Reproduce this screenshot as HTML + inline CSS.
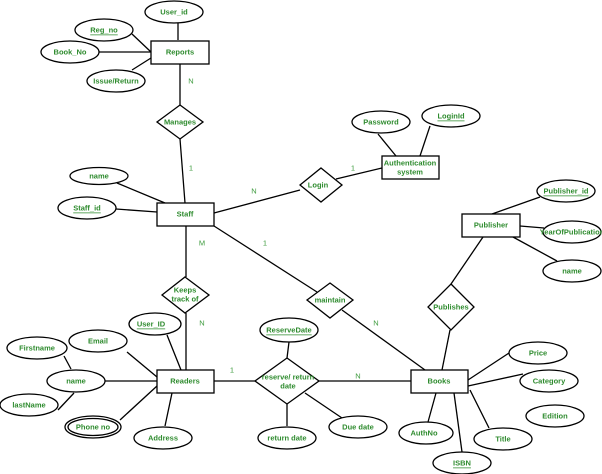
<!DOCTYPE html>
<html><head><style>
html,body{margin:0;padding:0;background:#fff;}
svg{display:block;}
text{font-family:"Liberation Sans",sans-serif;font-size:7.5px;font-weight:bold;fill:#2e8b2e;text-anchor:middle;dominant-baseline:central;}
.c{font-weight:normal;fill:#3c9a3c;}
.u{text-decoration:underline;}
</style></head><body>
<svg width="602" height="474" viewBox="0 0 602 474" xmlns="http://www.w3.org/2000/svg">
<g stroke="#000" stroke-width="1.3" fill="none">
<!-- lines -->
<line x1="178" y1="23" x2="178" y2="40"/>
<line x1="132" y1="34" x2="151" y2="52"/>
<line x1="99" y1="52" x2="151" y2="52"/>
<line x1="132" y1="70" x2="151" y2="58"/>
<line x1="180" y1="64" x2="180" y2="105"/>
<line x1="180" y1="139" x2="185" y2="203"/>
<line x1="117" y1="183" x2="165" y2="203"/>
<line x1="116" y1="209" x2="157" y2="212"/>
<line x1="214" y1="213" x2="300" y2="190"/>
<line x1="336" y1="179" x2="382" y2="168"/>
<line x1="378" y1="134" x2="396" y2="156"/>
<line x1="430" y1="126" x2="420" y2="156"/>
<line x1="540" y1="197" x2="492" y2="214"/>
<line x1="520" y1="226" x2="544" y2="228"/>
<line x1="513" y1="237" x2="557" y2="261"/>
<line x1="483" y1="237" x2="451" y2="284"/>
<line x1="450" y1="330" x2="442" y2="370"/>
<line x1="214" y1="226" x2="317" y2="292"/>
<line x1="342" y1="310" x2="425" y2="370"/>
<line x1="186" y1="226" x2="186" y2="277"/>
<line x1="186" y1="313" x2="186" y2="370"/>
<line x1="214" y1="381" x2="255" y2="381"/>
<line x1="319" y1="381" x2="411" y2="381"/>
<line x1="289" y1="342" x2="287" y2="358"/>
<line x1="287" y1="404" x2="287" y2="426"/>
<line x1="305" y1="393" x2="342" y2="418"/>
<line x1="167" y1="335" x2="181" y2="370"/>
<line x1="127" y1="352" x2="157" y2="377"/>
<line x1="64" y1="356" x2="71" y2="369"/>
<line x1="105" y1="381" x2="157" y2="381"/>
<line x1="74" y1="393" x2="58" y2="410"/>
<line x1="120" y1="420" x2="157" y2="386"/>
<line x1="172" y1="393" x2="165" y2="426"/>
<line x1="468" y1="380" x2="509" y2="353"/>
<line x1="468" y1="386" x2="523" y2="374"/>
<line x1="470" y1="390" x2="489" y2="428"/>
<line x1="454" y1="393" x2="462" y2="452"/>
<line x1="436" y1="393" x2="428" y2="422"/>
<!-- shapes -->
<g fill="#fff">
<rect x="151" y="41" width="58" height="23"/>
<rect x="157" y="203" width="57" height="23"/>
<rect x="382" y="156" width="57" height="23"/>
<rect x="462" y="214" width="58" height="23"/>
<rect x="157" y="370" width="57" height="23"/>
<rect x="411" y="370" width="57" height="23"/>
<polygon points="180,105 203,122 180,139 157,122"/>
<polygon points="321,168 342,185 321,202 300,185"/>
<polygon points="330,283 353,300 330,318 307,300"/>
<polygon points="451,284 474,307 451,330 428,307"/>
<polygon points="185,277 209,295 185,313 162,295"/>
<polygon points="287,358 319,381 287,404 255,381"/>
<ellipse cx="174" cy="12" rx="29" ry="11"/>
<ellipse cx="104" cy="30" rx="29" ry="11"/>
<ellipse cx="70" cy="52" rx="29" ry="11"/>
<ellipse cx="116" cy="81" rx="29" ry="11"/>
<ellipse cx="99" cy="176" rx="29" ry="8.5"/>
<ellipse cx="87" cy="208" rx="29" ry="11"/>
<ellipse cx="381" cy="122" rx="29" ry="11"/>
<ellipse cx="451" cy="116" rx="29" ry="11"/>
<ellipse cx="566" cy="191" rx="29" ry="11"/>
<ellipse cx="572" cy="232" rx="29" ry="11"/>
<ellipse cx="572" cy="271" rx="29" ry="11"/>
<ellipse cx="289" cy="330" rx="29" ry="12"/>
<ellipse cx="287" cy="438" rx="29" ry="11"/>
<ellipse cx="358" cy="427" rx="29" ry="11"/>
<ellipse cx="155" cy="324" rx="26" ry="11"/>
<ellipse cx="98" cy="341" rx="29" ry="11"/>
<ellipse cx="37" cy="348" rx="30" ry="11"/>
<ellipse cx="76" cy="381" rx="29" ry="11"/>
<ellipse cx="29" cy="405" rx="29" ry="11"/>
<ellipse cx="93" cy="427" rx="28" ry="11"/>
<ellipse cx="93" cy="427" rx="25" ry="8.5"/>
<ellipse cx="163" cy="438" rx="29" ry="11"/>
<ellipse cx="538" cy="353" rx="29" ry="11"/>
<ellipse cx="549" cy="381" rx="29" ry="11"/>
<ellipse cx="555" cy="416" rx="29" ry="11"/>
<ellipse cx="503" cy="439" rx="29" ry="11"/>
<ellipse cx="462" cy="463" rx="29" ry="11"/>
<ellipse cx="426" cy="433" rx="27" ry="11"/>
</g>
</g>
<text x="180" y="52">Reports</text>
<text x="185" y="214">Staff</text>
<text x="410" y="163">Authentication</text>
<text x="410" y="172">system</text>
<text x="491" y="225">Publisher</text>
<text x="185" y="381">Readers</text>
<text x="439" y="381">Books</text>
<text x="180" y="122">Manages</text>
<text x="318" y="185">Login</text>
<text x="330" y="300">maintain</text>
<text x="451" y="307">Publishes</text>
<text x="185" y="290">Keeps</text>
<text x="185" y="299">track of</text>
<text x="288" y="377">reserve/ return</text>
<text x="288" y="386">date</text>
<text x="174" y="12">User_id</text>
<text x="104" y="30" class="u">Reg_no</text>
<text x="70" y="52">Book_No</text>
<text x="116" y="81">Issue/Return</text>
<text x="99" y="176">name</text>
<text x="87" y="208" class="u">Staff_id</text>
<text x="381" y="122">Password</text>
<text x="451" y="116" class="u">LoginId</text>
<text x="566" y="191" class="u">Publisher_id</text>
<text x="572" y="232">YearOfPublication</text>
<text x="572" y="271">name</text>
<text x="289" y="330" class="u">ReserveDate</text>
<text x="287" y="438">return date</text>
<text x="358" y="427">Due date</text>
<text x="151" y="324" class="u">User_ID</text>
<text x="98" y="341">Email</text>
<text x="37" y="348">Firstname</text>
<text x="76" y="381">name</text>
<text x="29" y="405">lastName</text>
<text x="93" y="427">Phone no</text>
<text x="163" y="438">Address</text>
<text x="538" y="353">Price</text>
<text x="549" y="381">Category</text>
<text x="555" y="416">Edition</text>
<text x="503" y="439">Title</text>
<text x="462" y="463" class="u">ISBN</text>
<text x="424" y="433">AuthNo</text>
<text class="c" x="191" y="81">N</text>
<text class="c" x="191" y="168">1</text>
<text class="c" x="254" y="191">N</text>
<text class="c" x="353" y="168">1</text>
<text class="c" x="265" y="243">1</text>
<text class="c" x="376" y="323">N</text>
<text class="c" x="202" y="243">M</text>
<text class="c" x="202" y="323">N</text>
<text class="c" x="232" y="370">1</text>
<text class="c" x="358" y="376">N</text>
</svg>
</body></html>
